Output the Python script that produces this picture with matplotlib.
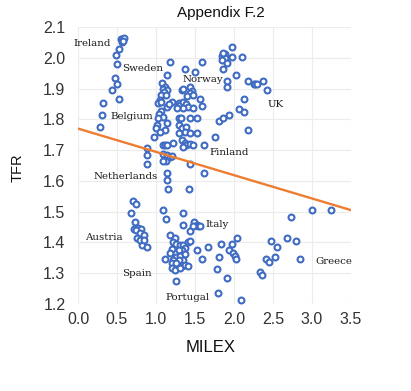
import matplotlib
matplotlib.use("Agg")
import matplotlib.pyplot as plt

# ---- data ----
milex = [
    # Ireland group
    0.55, 0.57, 0.59, 0.56, 0.58, 0.53, 0.49, 0.50, 0.47, 0.50, 0.44, 0.52, 0.32, 0.31, 0.28,
    # upper central
    1.18, 1.59, 1.37, 1.50, 1.14,
    1.08, 1.12, 1.09, 1.14, 1.10, 1.07, 1.13,
    1.33, 1.35, 1.44, 1.46, 1.43, 1.40, 1.48, 1.56,
    1.05, 1.03, 1.07, 1.20, 1.14, 1.17,
    1.29, 1.31, 1.35, 1.38, 1.41, 1.34, 1.27,
    1.48, 1.59,
    1.07, 1.04, 1.09, 1.02,
    1.29, 1.32, 1.44, 1.53,
    1.01, 1.00, 1.14, 1.12, 1.05, 0.97,
    1.30, 1.33, 1.39, 1.37, 1.30, 1.44, 1.52,
    1.81, 1.76,
    1.33, 1.37, 1.39, 1.44, 1.48, 1.35,
    1.61,
    1.09, 1.12, 1.14, 0.88,
    1.22,
    1.09, 1.14, 1.13, 1.09, 1.18, 1.20,
    0.88, 0.88,
    1.44, 1.61,
    1.14, 1.14, 1.15, 1.42,
    # upper right
    1.97, 1.85, 1.87, 1.89, 1.88, 1.86, 1.97, 2.10, 1.84, 1.91, 1.86, 2.02, 1.91, 1.91,
    2.18, 2.25, 2.27, 2.29, 2.37, 2.42, 2.13, 2.06, 2.13, 1.94, 1.86, 2.18,
    # Austria group
    0.71, 0.74, 0.68, 0.73, 0.77, 0.81, 0.72, 0.74, 0.79, 0.76, 0.85, 0.82, 0.88, 0.79, 0.84,
    # lower central
    1.09, 1.13, 1.35, 1.35,
    1.49, 1.52, 1.54, 1.47, 1.43, 1.56,
    1.18, 1.24, 1.22, 1.26, 1.31, 1.35, 1.41, 1.44,
    1.37, 1.33, 1.29, 1.20, 1.18, 1.25, 1.31, 1.37,
    1.35, 1.29, 1.22, 1.20, 1.26, 1.33, 1.37, 1.41,
    1.12, 1.20, 1.24, 1.31, 1.26,
    1.52, 1.59, 1.67,
    # lower right
    2.73, 3.00, 3.24, 2.04, 1.83, 1.98, 1.94, 1.99, 2.01, 2.03, 1.81, 1.78, 1.91,
    2.47, 2.55, 2.68, 2.79, 2.41, 2.45, 2.52, 2.84, 2.33, 2.36, 1.79, 2.09,
]
tfr = [
    2.060, 2.060, 2.065, 2.050, 2.055, 2.030, 2.010, 1.980, 1.935, 1.915, 1.895, 1.865, 1.853, 1.815, 1.775,
    1.985, 1.985, 1.963, 1.955, 1.944,
    1.918, 1.906, 1.900, 1.895, 1.890, 1.880, 1.878,
    1.895, 1.900, 1.904, 1.892, 1.885, 1.877, 1.879, 1.866,
    1.863, 1.852, 1.857, 1.855, 1.841, 1.849,
    1.852, 1.847, 1.857, 1.849, 1.841, 1.836, 1.836,
    1.838, 1.844,
    1.827, 1.816, 1.808, 1.803,
    1.805, 1.803, 1.805, 1.805,
    1.781, 1.773, 1.787, 1.765, 1.760, 1.744,
    1.781, 1.773, 1.776, 1.760, 1.755, 1.755, 1.755,
    1.795, 1.744,
    1.733, 1.722, 1.717, 1.719, 1.717, 1.711,
    1.715,
    1.717, 1.715, 1.717, 1.706,
    1.724,
    1.687, 1.684, 1.663, 1.665, 1.676, 1.682,
    1.684, 1.654,
    1.655, 1.625,
    1.625, 1.603, 1.573, 1.573,
    2.034, 2.005, 2.010, 2.012, 2.000, 2.015, 2.004, 2.004, 1.993, 1.984, 1.964, 1.944, 1.925, 1.904,
    1.925, 1.914, 1.914, 1.914, 1.925, 1.895, 1.865, 1.835, 1.825, 1.814, 1.805, 1.766,
    1.536, 1.525, 1.495, 1.466, 1.446, 1.444, 1.444, 1.439, 1.430, 1.414, 1.424, 1.392, 1.385, 1.408, 1.408,
    1.506, 1.477, 1.497, 1.456,
    1.466, 1.457, 1.454, 1.452, 1.436, 1.454,
    1.425, 1.414, 1.403, 1.396, 1.392, 1.392, 1.403, 1.406,
    1.381, 1.376, 1.374, 1.378, 1.365, 1.354, 1.356, 1.362,
    1.344, 1.344, 1.344, 1.333, 1.333, 1.324, 1.327, 1.324,
    1.346, 1.317, 1.311, 1.317, 1.275,
    1.376, 1.346, 1.385,
    1.484, 1.504, 1.504, 1.414, 1.396, 1.396, 1.376, 1.365, 1.357, 1.346, 1.354, 1.314, 1.286,
    1.405, 1.385, 1.414, 1.405, 1.346, 1.335, 1.354, 1.346, 1.303, 1.294, 1.235, 1.214,
]

trend_x = [0.0, 3.5]
trend_y = [1.770, 1.505]

countries = ["Ireland", "Sweden", "Norway", "UK", "Belgium", "Finland",
             "Netherlands", "Austria", "Italy", "Spain", "Portugal", "Greece"]
label_x = [-0.06, 0.57, 1.34, 2.43, 0.41, 1.68, 0.20, 0.09, 1.64, 0.56, 1.12, 3.04]
label_y = [2.045, 1.966, 1.928, 1.849, 1.809, 1.693, 1.614, 1.416, 1.457, 1.298, 1.222, 1.338]

xticks = [0.0, 0.5, 1.0, 1.5, 2.0, 2.5, 3.0, 3.5]
yticks = [1.2, 1.3, 1.4, 1.5, 1.6, 1.7, 1.8, 1.9, 2.0, 2.1]

# ---- figure ----
W, H = 411, 391
fig = plt.figure(figsize=(W / 100, H / 100), dpi=100)
ax = fig.add_axes([78 / W, 1 - 304 / H, (351 - 78) / W, (304 - 27) / H])

ax.scatter(milex, tfr, s=18, facecolors="white", edgecolors="#3F6CC2",
           linewidths=1.5, zorder=2)
ax.plot(trend_x, trend_y, color="#ED7D31", lw=1.7, zorder=3)

for name, lx, ly in zip(countries, label_x, label_y):
    ax.text(lx, ly, name, ha="left", va="center", fontsize=7.4,
            family="DejaVu Serif", color="#1a1a1a", zorder=4)

ax.set_xlim(0, 3.5)
ax.set_ylim(1.2, 2.1)
ax.set_xticks(xticks)
ax.set_yticks(yticks)
ax.set_xticklabels([f"{v:.1f}" for v in xticks])
ax.set_yticklabels([f"{v:.1f}" for v in yticks])
ax.tick_params(length=0, labelsize=11.5, colors="#333333")
ax.tick_params(axis="x", pad=6)
ax.tick_params(axis="y", pad=9)
for lab in ax.get_xticklabels() + ax.get_yticklabels():
    lab.set_family("Liberation Sans")
ax.grid(True, color="#ECECEC", lw=0.8, zorder=0)
ax.set_axisbelow(True)
for sp in ax.spines.values():
    sp.set_visible(False)

fig.text(221 / W, 1 - 13 / H, "Appendix F.2", ha="center", va="center",
         fontsize=11, family="Liberation Sans", color="#111111")
fig.text(211 / W, 1 - 347 / H, "MILEX", ha="center", va="center",
         fontsize=12, family="Liberation Sans", color="#111111")
fig.text(18 / W, 1 - 168 / H, "TFR", ha="center", va="center", rotation=90,
         fontsize=10.5, family="Liberation Sans", color="#111111")

fig.savefig("out.png", dpi=100, facecolor="white")
